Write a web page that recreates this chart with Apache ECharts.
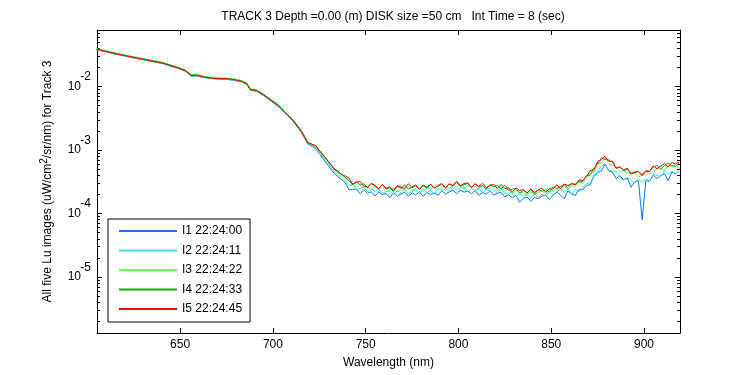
<!DOCTYPE html>
<html>
<head>
<meta charset="utf-8">
<script src="https://cdn.jsdelivr.net/npm/echarts@6/dist/echarts.min.js"></script>
<style>
  html, body { margin: 0; padding: 0; background: #fff; }
  #chart { width: 750px; height: 375px; }
</style>
</head>
<body>
<div id="chart"></div>
<script>
// wavelength (nm)
const wavelengths = [
  605, 609, 613, 617, 621, 625, 629, 633, 637, 641, 645, 649, 653, 656, 659, 663,
  667, 671, 675, 679, 683, 686, 688, 691, 695, 699, 703, 707, 711, 715, 719,
  721, 723, 725, 727, 729, 731, 733, 735, 737, 739, 741, 743, 745, 747, 749, 751,
  753, 755, 757, 759, 761, 763, 765, 767, 769, 771, 773, 775, 777, 779, 781, 783,
  785, 787, 789, 791, 793, 795, 797, 799, 801, 803, 805, 807, 809, 811, 813, 815,
  817, 819, 821, 823, 825, 827, 829, 831, 833, 835, 837, 839, 841, 843, 845, 847,
  849, 851, 853, 855, 857, 859, 861, 863, 865, 867, 869, 871, 873, 875, 877, 879,
  881, 883, 885, 887, 889, 891, 893, 895, 897, 899, 901, 903, 905, 907, 909, 911,
  913, 915, 917, 919
]

// Lu, uW/cm^2/sr/nm
const i1 = [
  3.80e-2, 3.60e-2, 3.37e-2, 3.18e-2, 3.00e-2, 2.83e-2, 2.69e-2, 2.55e-2, 2.42e-2, 2.29e-2, 2.10e-2, 1.93e-2, 1.74e-2, 1.46e-2, 1.48e-2, 1.39e-2,
  1.34e-2, 1.31e-2, 1.30e-2, 1.26e-2, 1.19e-2, 1.08e-2, 8.7e-3, 8.5e-3, 7.2e-3, 5.9e-3, 4.8e-3, 3.7e-3, 2.8e-3, 1.96e-3, 1.23e-3,
  1.15e-3, 1.06e-3, 8.8e-4, 7.3e-4, 6.1e-4, 5.1e-4, 4.3e-4, 3.8e-4, 3.45e-4, 3.05e-4,
  2.37e-4, 2.38e-4, 2.44e-4, 2.05e-4, 2.37e-4, 2.08e-4, 2.21e-4, 1.89e-4, 2.18e-4, 1.99e-4,
  2.06e-4, 1.78e-4, 2.13e-4, 1.87e-4, 2.02e-4, 2.17e-4, 1.87e-4, 2.11e-4, 1.97e-4, 2.21e-4,
  1.85e-4, 2.15e-4, 1.99e-4, 2.11e-4, 1.95e-4, 2.27e-4, 2.04e-4, 2.18e-4, 2.34e-4, 2.06e-4,
  2.34e-4, 2.18e-4, 2.26e-4, 2.05e-4, 2.30e-4, 1.93e-4, 2.14e-4, 2.02e-4, 2.27e-4, 1.96e-4,
  2.09e-4, 2.15e-4, 1.82e-4, 1.97e-4, 1.76e-4, 1.93e-4, 1.50e-4, 1.75e-4, 1.82e-4, 1.55e-4,
  1.79e-4, 1.72e-4, 1.88e-4, 1.93e-4, 1.67e-4, 1.94e-4, 2.19e-4, 1.95e-4, 1.70e-4, 2.27e-4,
  2.03e-4, 1.93e-4, 2.41e-4, 2.35e-4, 2.78e-4, 2.84e-4, 3.89e-4, 4.41e-4, 4.67e-4, 5.98e-4,
  4.70e-4, 4.47e-4, 3.56e-4, 3.93e-4, 3.43e-4, 3.63e-4, 2.60e-4, 3.15e-4, 3.29e-4, 0.80e-4,
  3.29e-4, 3.23e-4, 4.00e-4, 3.55e-4, 3.94e-4, 4.27e-4, 3.30e-4, 4.48e-4, 4.24e-4, 4.65e-4
]
const i2 = [
  3.82e-2, 3.62e-2, 3.39e-2, 3.20e-2, 3.02e-2, 2.85e-2, 2.71e-2, 2.58e-2, 2.45e-2, 2.31e-2, 2.12e-2, 1.95e-2, 1.75e-2, 1.47e-2, 1.50e-2, 1.40e-2,
  1.35e-2, 1.32e-2, 1.31e-2, 1.27e-2, 1.20e-2, 1.09e-2, 8.8e-3, 8.6e-3, 7.3e-3, 6.0e-3, 4.9e-3, 3.75e-3, 2.85e-3, 2.00e-3, 1.26e-3,
  1.18e-3, 1.10e-3, 9.2e-4, 7.7e-4, 6.5e-4, 5.5e-4, 4.6e-4, 4.1e-4, 3.7e-4, 3.3e-4,
  2.75e-4, 2.87e-4, 2.36e-4, 2.49e-4, 2.61e-4, 2.20e-4, 2.48e-4, 2.23e-4, 2.48e-4, 2.10e-4,
  2.21e-4, 2.26e-4, 1.95e-4, 2.29e-4, 2.12e-4, 2.43e-4, 2.08e-4, 2.24e-4, 2.37e-4, 2.06e-4,
  2.42e-4, 2.15e-4, 2.31e-4, 2.04e-4, 2.45e-4, 2.30e-4, 2.47e-4, 2.22e-4, 2.66e-4, 2.33e-4,
  2.52e-4, 2.64e-4, 2.21e-4, 2.49e-4, 2.28e-4, 2.53e-4, 2.09e-4, 2.44e-4, 2.25e-4, 2.37e-4,
  2.13e-4, 2.42e-4, 2.08e-4, 2.10e-4, 2.16e-4, 1.84e-4, 2.05e-4, 1.90e-4, 1.96e-4, 1.77e-4,
  2.05e-4, 1.78e-4, 2.02e-4, 1.91e-4, 2.17e-4, 1.97e-4, 2.24e-4, 2.41e-4, 2.16e-4, 2.48e-4,
  2.04e-4, 2.40e-4, 2.19e-4, 2.58e-4, 3.00e-4, 3.03e-4, 4.00e-4, 4.56e-4, 5.56e-4, 6.15e-4,
  4.81e-4, 4.67e-4, 4.60e-4, 3.72e-4, 3.33e-4, 3.73e-4, 3.39e-4, 3.03e-4, 3.51e-4, 3.12e-4,
  3.51e-4, 3.23e-4, 4.12e-4, 4.00e-4, 3.84e-4, 4.68e-4, 4.16e-4, 4.65e-4, 4.15e-4, 4.78e-4
]
const i3 = [
  3.95e-2, 3.76e-2, 3.52e-2, 3.32e-2, 3.14e-2, 2.97e-2, 2.82e-2, 2.68e-2, 2.55e-2, 2.40e-2, 2.21e-2, 2.03e-2, 1.83e-2, 1.55e-2, 1.57e-2, 1.46e-2,
  1.41e-2, 1.38e-2, 1.37e-2, 1.33e-2, 1.25e-2, 1.14e-2, 9.2e-3, 9.0e-3, 7.7e-3, 6.3e-3, 5.2e-3, 3.9e-3, 3.0e-3, 2.10e-3, 1.33e-3,
  1.21e-3, 1.14e-3, 9.6e-4, 8.1e-4, 6.9e-4, 5.8e-4, 4.9e-4, 4.4e-4, 4.0e-4, 3.6e-4,
  3.30e-4, 2.88e-4, 2.61e-4, 3.00e-4, 2.54e-4, 2.70e-4, 2.34e-4, 2.69e-4, 2.42e-4, 2.66e-4,
  2.20e-4, 2.33e-4, 2.54e-4, 2.19e-4, 2.50e-4, 2.34e-4, 2.71e-4, 2.31e-4, 2.51e-4, 2.63e-4,
  2.24e-4, 2.58e-4, 2.39e-4, 2.70e-4, 2.33e-4, 2.54e-4, 2.73e-4, 2.40e-4, 2.86e-4, 2.58e-4,
  2.78e-4, 2.40e-4, 2.81e-4, 2.58e-4, 2.71e-4, 2.36e-4, 2.77e-4, 2.39e-4, 2.57e-4, 2.72e-4,
  2.28e-4, 2.56e-4, 2.30e-4, 2.49e-4, 2.02e-4, 2.30e-4, 2.09e-4, 2.16e-4, 1.94e-4, 2.20e-4,
  2.00e-4, 2.14e-4, 2.29e-4, 2.01e-4, 2.29e-4, 2.28e-4, 2.51e-4, 2.36e-4, 2.74e-4, 2.38e-4,
  2.72e-4, 2.68e-4, 3.16e-4, 2.98e-4, 3.55e-4, 4.34e-4, 4.45e-4, 6.09e-4, 6.27e-4, 7.65e-4,
  6.05e-4, 5.76e-4, 5.56e-4, 4.49e-4, 4.78e-4, 4.29e-4, 4.44e-4, 4.42e-4, 3.73e-4, 4.09e-4,
  4.58e-4, 4.20e-4, 4.30e-4, 5.27e-4, 5.13e-4, 4.82e-4, 5.88e-4, 5.44e-4, 6.03e-4, 5.11e-4
]
const i4 = [
  3.88e-2, 3.68e-2, 3.46e-2, 3.25e-2, 3.08e-2, 2.91e-2, 2.76e-2, 2.63e-2, 2.49e-2, 2.36e-2, 2.16e-2, 1.99e-2, 1.79e-2, 1.52e-2, 1.53e-2, 1.43e-2,
  1.37e-2, 1.35e-2, 1.34e-2, 1.30e-2, 1.23e-2, 1.11e-2, 9.0e-3, 8.8e-3, 7.5e-3, 6.2e-3, 5.1e-3, 3.85e-3, 2.95e-3, 2.07e-3, 1.31e-3,
  1.24e-3, 1.17e-3, 1.00e-3, 8.3e-4, 7.2e-4, 5.9e-4, 5.1e-4, 4.5e-4, 4.2e-4, 3.7e-4,
  3.32e-4, 2.82e-4, 3.23e-4, 2.79e-4, 2.96e-4, 2.54e-4, 2.97e-4, 2.70e-4, 2.47e-4, 2.88e-4,
  2.43e-4, 2.53e-4, 2.25e-4, 2.69e-4, 2.51e-4, 2.83e-4, 2.43e-4, 2.64e-4, 2.83e-4, 2.41e-4,
  2.72e-4, 2.51e-4, 2.88e-4, 2.49e-4, 2.73e-4, 2.89e-4, 2.50e-4, 2.92e-4, 2.74e-4, 3.12e-4,
  2.68e-4, 2.84e-4, 2.97e-4, 2.56e-4, 2.96e-4, 2.59e-4, 2.77e-4, 2.42e-4, 2.88e-4, 2.66e-4,
  2.78e-4, 2.44e-4, 2.78e-4, 2.31e-4, 2.41e-4, 2.49e-4, 2.09e-4, 2.32e-4, 2.13e-4, 2.37e-4,
  2.01e-4, 2.39e-4, 2.24e-4, 2.37e-4, 2.18e-4, 2.65e-4, 2.47e-4, 2.67e-4, 2.89e-4, 2.56e-4,
  2.95e-4, 2.91e-4, 3.21e-4, 3.21e-4, 4.00e-4, 4.01e-4, 5.25e-4, 5.99e-4, 7.59e-4, 7.10e-4,
  7.00e-4, 6.44e-4, 5.15e-4, 5.45e-4, 4.70e-4, 5.03e-4, 4.19e-4, 4.40e-4, 4.57e-4, 3.93e-4,
  4.61e-4, 4.61e-4, 5.41e-4, 5.71e-4, 5.03e-4, 5.70e-4, 6.31e-4, 5.68e-4, 5.51e-4, 6.34e-4
]
const i5 = [
  3.85e-2, 3.66e-2, 3.42e-2, 3.23e-2, 3.05e-2, 2.88e-2, 2.74e-2, 2.60e-2, 2.47e-2, 2.33e-2, 2.14e-2, 1.97e-2, 1.77e-2, 1.49e-2, 1.51e-2, 1.41e-2,
  1.36e-2, 1.33e-2, 1.33e-2, 1.29e-2, 1.21e-2, 1.10e-2, 8.9e-3, 8.7e-3, 7.4e-3, 6.1e-3, 5.0e-3, 3.8e-3, 2.9e-3, 2.04e-3, 1.29e-3,
  1.23e-3, 1.18e-3, 9.8e-4, 8.5e-4, 7.1e-4, 6.1e-4, 5.0e-4, 4.7e-4, 4.1e-4, 3.9e-4,
  3.62e-4, 2.91e-4, 3.08e-4, 3.23e-4, 2.74e-4, 2.57e-4, 3.00e-4, 2.79e-4, 2.47e-4, 2.89e-4,
  2.50e-4, 2.64e-4, 2.32e-4, 2.77e-4, 2.61e-4, 2.49e-4, 2.96e-4, 2.56e-4, 2.75e-4, 2.40e-4,
  2.83e-4, 2.62e-4, 2.91e-4, 2.51e-4, 2.76e-4, 2.98e-4, 2.58e-4, 2.95e-4, 2.76e-4, 3.21e-4,
  2.76e-4, 2.96e-4, 3.06e-4, 2.58e-4, 2.94e-4, 2.68e-4, 2.99e-4, 2.55e-4, 2.74e-4, 2.90e-4,
  2.48e-4, 2.88e-4, 2.48e-4, 2.55e-4, 2.17e-4, 2.53e-4, 2.30e-4, 2.39e-4, 2.08e-4, 2.44e-4,
  2.15e-4, 2.35e-4, 2.52e-4, 2.16e-4, 2.46e-4, 2.43e-4, 2.86e-4, 2.46e-4, 2.93e-4, 2.75e-4,
  2.96e-4, 2.82e-4, 3.40e-4, 3.31e-4, 3.82e-4, 4.76e-4, 4.84e-4, 6.62e-4, 7.03e-4, 8.01e-4,
  6.65e-4, 6.70e-4, 5.20e-4, 5.46e-4, 4.85e-4, 5.19e-4, 4.28e-4, 4.54e-4, 4.62e-4, 4.05e-4,
  4.75e-4, 4.61e-4, 5.62e-4, 5.08e-4, 5.58e-4, 6.10e-4, 5.39e-4, 6.34e-4, 6.12e-4, 6.47e-4
]

const names = ['I1 22:24:00', 'I2 22:24:11', 'I3 22:24:22', 'I4 22:24:33', 'I5 22:24:45']
const colors = ['#1673e4', '#38dcf0', '#66ff66', '#00b300', '#ff0000']
const xTicks = [650, 700, 750, 800, 850, 900]
const yTicks = [1e-5, 1e-4, 1e-3, 1e-2]

const FONT = 'Arial, "Liberation Sans", sans-serif'
const X_MIN = 605.2, X_MAX = 919.4
const Y_MIN = 1.31e-6, Y_MAX = 0.0781

// minor ticks 2..9 x 10^n
let yMinor = []
for (let e = -6; e <= -2; e++) {
  for (let m = 2; m <= 9; m++) {
    let v = m * Math.pow(10, e)
    if (v > Y_MIN && v < Y_MAX) yMinor.push(v)
  }
}

let chart = echarts.init(document.getElementById('chart'), null, { renderer: 'canvas' })

function yAxisOf(pos, major) {
  return {
    type: 'log',
    logBase: 10,
    position: pos,
    min: Y_MIN,
    max: Y_MAX,
    axisLine: { show: major, onZero: false, lineStyle: { color: '#000', width: 1 } },
    splitLine: { show: false },
    axisTick: {
      show: true,
      inside: true,
      length: major ? 5 : 3,
      customValues: major ? yTicks : yMinor,
      lineStyle: { color: '#000', width: 1 },
    },
    axisLabel: major && pos === 'left' ? {
      show: true,
      margin: 6,
      customValues: yTicks,
      align: 'right',
      formatter: function (v) {
        let e = Math.round(Math.log10(v))
        return '{sup|' + e + '}\n{b|10}\n{sup| }'
      },
      rich: {
        sup: { fontFamily: FONT, fontSize: 12, color: '#000', lineHeight: 7, align: 'right' },
        b: { fontFamily: FONT, fontSize: 12, color: '#000', lineHeight: 12, align: 'right', padding: [0, 10, 0, 0] },
      },
    } : { show: false },
    name: major && pos === 'left' ? 'All five Lu images (uW/cm{sup|2}/sr/nm) for Track 3' : '',
    nameLocation: 'middle',
    nameGap: 40,
    nameTextStyle: {
      fontFamily: FONT,
      fontSize: 12,
      color: '#000',
      rich: {
        sup: { fontFamily: FONT, fontSize: 10, color: '#000', verticalAlign: 'top', lineHeight: 18 },
      },
    },
  }
}

function xAxisOf(pos) {
  return {
    type: 'value',
    position: pos,
    min: X_MIN,
    max: X_MAX,
    axisLine: { show: true, onZero: false, lineStyle: { color: '#000', width: 1 } },
    splitLine: { show: false },
    axisTick: { show: true, inside: true, length: 5, customValues: xTicks, lineStyle: { color: '#000' } },
    axisLabel: pos === 'bottom' ? {
      show: true,
      margin: 6,
      customValues: xTicks,
      color: '#000',
      fontFamily: FONT,
      fontSize: 12,
    } : { show: false },
    name: pos === 'bottom' ? 'Wavelength (nm)' : '',
    nameLocation: 'middle',
    nameGap: 24,
    nameTextStyle: { fontFamily: FONT, fontSize: 12, color: '#000' },
  }
}

let allSeries = [i1, i2, i3, i4, i5]

chart.setOption({
  animation: false,
  backgroundColor: '#fff',
  title: {
    text: 'TRACK 3 Depth =0.00 (m) DISK size =50 cm   Int Time = 8 (sec)',
    left: 388,
    top: 6,
    textAlign: 'center',
    textStyle: { fontFamily: FONT, fontSize: 12, fontWeight: 'normal', color: '#000' },
  },
  grid: {
    left: 97,
    top: 30,
    right: 70,
    bottom: 42,
    containLabel: false,
    outerBoundsMode: 'none',
  },
  legend: {
    orient: 'vertical',
    left: 108,
    top: 219,
    data: names,
    icon: 'rect',
    itemWidth: 58,
    itemHeight: 2,
    itemGap: 5.5,
    padding: [5, 8, 6, 11],
    borderColor: '#000',
    borderWidth: 1,
    backgroundColor: '#fff',
    textStyle: { fontFamily: FONT, fontSize: 12, color: '#000', lineHeight: 14 },
  },
  xAxis: [xAxisOf('bottom'), xAxisOf('top')],
  yAxis: [yAxisOf('left', true), yAxisOf('left', false), yAxisOf('right', true), yAxisOf('right', false)],
  series: allSeries.map((vals, k) => ({
    name: names[k],
    type: 'line',
    xAxisIndex: 0,
    yAxisIndex: 0,
    symbol: 'none',
    showSymbol: false,
    color: colors[k],
    itemStyle: { color: colors[k] },
    lineStyle: { color: colors[k], width: 1 },
    data: wavelengths.map((w, i) => [w, vals[i]]),
  })),
})
</script>
</body>
</html>
